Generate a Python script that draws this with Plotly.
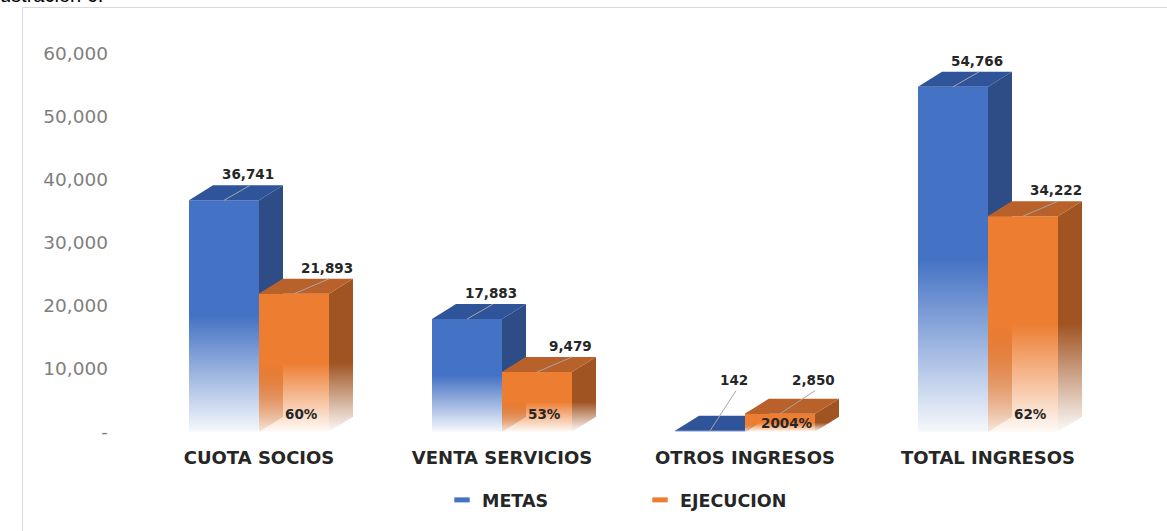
import plotly.graph_objects as go

# ---------------- data ----------------
categories = ["CUOTA SOCIOS", "VENTA SERVICIOS", "OTROS INGRESOS", "TOTAL INGRESOS"]
metas = [36741, 17883, 142, 54766]
ejecucion = [21893, 9479, 2850, 34222]
pct_labels = ["60%", "53%", "2004%", "62%"]
series_names = ["METAS", "EJECUCION"]
y_tick_vals = [0, 10000, 20000, 30000, 40000, 50000, 60000]
y_tick_text = ["-", "10,000", "20,000", "30,000", "40,000", "50,000", "60,000"]

# ---------------- geometry (pixel based 3D projection) ----------------
W, H = 1167, 531
ML, MR, MT, MB = 118, 17, 35, 93
PX_PER_X = 243.0
plot_w = W - ML - MR
plot_h = H - MT - MB
X0 = -(259 - ML) / PX_PER_X
X1 = X0 + plot_w / PX_PER_X
Y0, Y1 = -1000, 63000
PX_PER_Y = plot_h / (Y1 - Y0)


def px_x(p):
    return p / PX_PER_X


def px_y(p):
    return p / PX_PER_Y


BW = px_x(70)   # bar front width
DX = px_x(24)   # depth offset x
DY = px_y(15)   # depth offset y

styles = {
    0: dict(front="68,114,196", top="#30549A", side="46,76,134", bottom_alpha=0.05),
    1: dict(front="237,125,49", top="#B8612A", side="160,84,34", bottom_alpha=0.04),
}

fig = go.Figure()


def poly(xs, ys, fillcolor=None, grad=None):
    kw = {}
    if grad is not None:
        kw["fillgradient"] = grad
    else:
        kw["fillcolor"] = fillcolor
    fig.add_trace(go.Scatter(
        x=xs + [xs[0]], y=ys + [ys[0]], mode="none", fill="toself",
        hoverinfo="skip", showlegend=False, **kw))


def vgrad(rgb, v, a0):
    return dict(type="vertical", start=0, stop=max(v, 1),
                colorscale=[[0, f"rgba({rgb},{a0})"],
                            [0.5, f"rgba({rgb},1)"],
                            [1, f"rgba({rgb},1)"]])


label_font = dict(family="DejaVu Sans", size=13.5, color="#262626", weight="bold")
annotations = []
for i, cat in enumerate(categories):
    for s, values in enumerate([metas, ejecucion]):
        v = values[i]
        st = styles[s]
        x0 = i - BW if s == 0 else i
        x1 = x0 + BW
        if s == 1:
            # hidden left side seen through the translucent lower front
            poly([x0, x0 + DX, x0 + DX, x0], [0, DY, v + DY, v],
                 grad=dict(type="vertical", start=0, stop=max(v, 1),
                           colorscale=[[0, "#F8ECE4"], [0.5, "#B9693A"], [1, "#B9693A"]]))
        # front face
        poly([x0, x1, x1, x0], [0, 0, v, v], grad=vgrad(st["front"], v, st["bottom_alpha"]))
        # right side face
        poly([x1, x1 + DX, x1 + DX, x1], [0, DY, v + DY, v], grad=vgrad(st["side"], v, 0.03))
        # top face
        poly([x0, x1, x1 + DX, x0 + DX], [v, v, v + DY, v + DY], fillcolor=st["top"])

        # value label with leader line
        cx = (x0 + x1) / 2
        lx = cx + (px_x(24) if s == 0 else px_x(33))
        ly = max(v + px_y(26), px_y(52))
        fig.add_trace(go.Scatter(
            x=[cx, lx + px_x(2)], y=[v, ly - px_y(11)], mode="lines",
            line=dict(color="#A6A6A6", width=1), hoverinfo="skip", showlegend=False))
        annotations.append(dict(
            x=lx, y=ly, xref="x", yref="y", text=f"{v:,}", showarrow=False,
            font=label_font, xanchor="center", yanchor="middle"))
        if s == 1:
            annotations.append(dict(
                x=cx + px_x(7), y=min(px_y(18), v - px_y(9)), xref="x", yref="y",
                text=pct_labels[i], showarrow=False, font=label_font,
                xanchor="center", yanchor="middle"))

# legend entries
for s, name in enumerate(series_names):
    col = "#4472C4" if s == 0 else "#ED7D31"
    fig.add_trace(go.Scatter(
        x=[None], y=[None], mode="markers", name=name,
        marker=dict(symbol="line-ew", size=11, color=col, line=dict(width=6, color=col))))

# cropped caption above the chart frame
annotations.append(dict(
    x=(-12 - ML) / plot_w, y=(plot_h + MT - 8) / plot_h, xref="paper", yref="paper",
    text="Ilustración 6:", showarrow=False, xanchor="left", yanchor="bottom",
    font=dict(family="Liberation Sans", size=20, color="#000000")))

fig.update_layout(
    width=W, height=H,
    margin=dict(l=ML, r=MR, t=MT, b=MB, pad=0),
    paper_bgcolor="white", plot_bgcolor="white",
    xaxis=dict(range=[X0, X1], tickvals=list(range(len(categories))), ticktext=categories,
               showgrid=False, zeroline=False, showline=False, ticks="",
               ticklabelstandoff=7,
               tickfont=dict(family="DejaVu Sans", size=18, color="#262626", weight="bold"),
               fixedrange=True),
    yaxis=dict(range=[Y0, Y1], tickvals=y_tick_vals, ticktext=y_tick_text,
               showgrid=False, zeroline=False, showline=False, ticks="",
               ticklabelstandoff=9,
               tickfont=dict(family="DejaVu Sans", size=18.5, color="#7F7F7F"),
               fixedrange=True),
    showlegend=True,
    legend=dict(orientation="h", x=(442 - ML) / plot_w, y=-(500 - (H - MB)) / plot_h,
                xanchor="left", yanchor="middle", entrywidth=153, entrywidthmode="pixels",
                font=dict(family="DejaVu Sans", size=17.5, color="#262626", weight="bold"),
                bgcolor="rgba(0,0,0,0)", borderwidth=0),
    annotations=annotations,
    shapes=[dict(type="rect", xref="paper", yref="paper",
                 x0=(22.5 - ML) / plot_w, x1=1.2,
                 y0=-0.3, y1=(H - MB - 7.5) / plot_h,
                 line=dict(color="#D9D9D9", width=1), fillcolor="rgba(0,0,0,0)", layer="below")],
)

fig.write_html("out.html")
